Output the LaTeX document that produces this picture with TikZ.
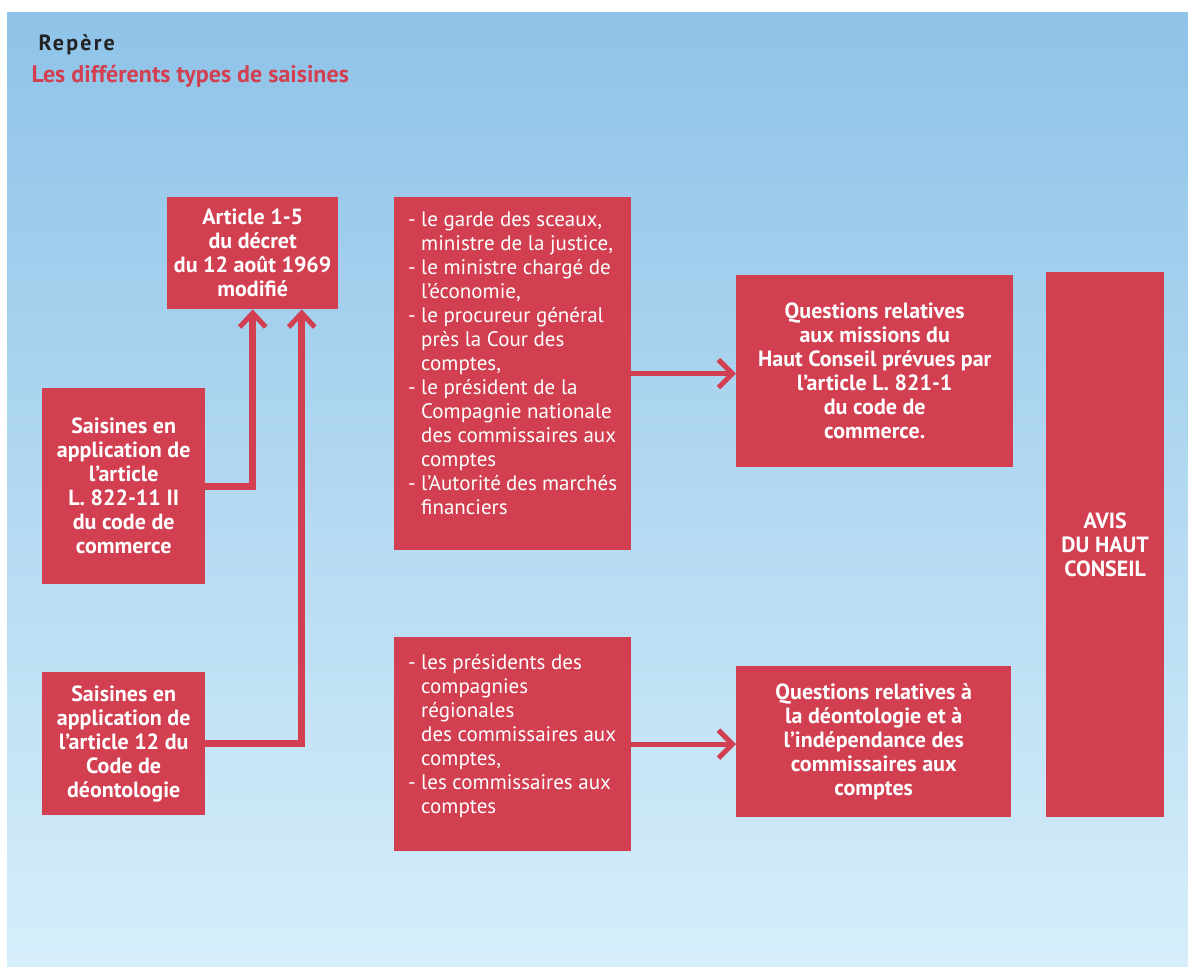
\documentclass[tikz,border=0pt]{standalone}
\usepackage{fontspec}
\setmainfont{PT Sans}
\usetikzlibrary{arrows.meta,calc}
\definecolor{boxred}{HTML}{D23F51}
\definecolor{bgtop}{HTML}{8EC3E8}
\definecolor{bgbot}{HTML}{D6EEFA}
\definecolor{titlegrey}{HTML}{222222}
\tikzset{
  box/.style={fill=boxred, text=white, inner sep=0pt, anchor=north west,
    align=center, font=\bfseries\fontsize{22}{24}\selectfont},
  listbox/.style={fill=boxred, text=white, inner sep=0pt, anchor=north west,
    font=\fontsize{21}{24}\selectfont},
  vconn/.style={draw=boxred, line width=7pt,
    -{Straight Barb[length=14pt,width=26pt,line width=5pt]}},
  hconn/.style={draw=boxred, line width=5pt,
    -{Straight Barb[length=14pt,width=28pt,line width=5pt]}},
}
\newcommand{\itm}[1]{\par\noindent\hangindent=13pt\hangafter=1\makebox[13pt][l]{-}#1\par}
\begin{document}
\begin{tikzpicture}[x=1pt,y=-1pt]
\useasboundingbox (0,0) rectangle (1188,967);
\shade[top color=bgtop, bottom color=bgbot] (7,12) rectangle (1188,966);

\node[anchor=west, text=titlegrey, font=\bfseries\fontsize{22}{24}\selectfont\addfontfeature{LetterSpace=10}] (rep) at (35,45) {Repère};
\node[anchor=west, text=boxred, font=\bfseries\fontsize{24}{28}\selectfont] (titre) at (28,76) {Les différents types de saisines};

\node[box, minimum width=171pt, minimum height=112pt] (art) at (167,197)
  {Article 1-5\\du décret\\du 12 août 1969\\modifié};
\node[box, minimum width=163pt, minimum height=196pt] (s1) at (42,388)
  {Saisines en\\application de\\l’article\\L. 822-11 II\\du code de\\commerce};
\node[box, minimum width=163pt, minimum height=143pt] (s2) at (42,672)
  {Saisines en\\application de\\l’article 12 du\\Code de\\déontologie};

\node[listbox, minimum width=237pt, minimum height=353pt] (l1) at (394,197)
  {\begin{minipage}[c][323pt][t]{209pt}\raggedright
   \itm{le garde des sceaux,\newline ministre de la justice,}
   \itm{le ministre chargé de\newline l’économie,}
   \itm{le procureur général\newline près la Cour des\newline comptes,}
   \itm{le président de la\newline Compagnie nationale\newline des commissaires aux\newline comptes}
   \itm{l’Autorité des marchés\newline financiers}
   \end{minipage}};
\node[listbox, minimum width=237pt, minimum height=214pt] (l2) at (394,637)
  {\begin{minipage}[c][180pt][t]{209pt}\raggedright
   \itm{les présidents des\newline compagnies\newline régionales\newline des commissaires aux\newline comptes,}
   \itm{les commissaires aux\newline comptes}
   \end{minipage}};

\node[box, minimum width=277pt, minimum height=192pt] (q1) at (736,275)
  {Questions relatives\\aux missions du\\Haut Conseil prévues par\\l’article L. 821-1\\du code de\\commerce.};
\node[box, minimum width=275pt, minimum height=151pt] (q2) at (736,666)
  {Questions relatives à\\la déontologie et à\\l’indépendance des\\commissaires aux\\comptes};
\node[box, minimum width=118pt, minimum height=545pt] (avis) at (1046,272)
  {AVIS\\DU HAUT\\CONSEIL};

\coordinate (art2) at ($(art.south)+(49,0)$);
\draw[vconn] (s1.east) -| (art.south);
\draw[vconn] (s2.east) -| (art2);
\draw[hconn] (l1.east) -- (l1.east -| q1.west);
\draw[hconn] (l2.east) -- (l2.east -| q2.west);
\end{tikzpicture}
\end{document}
